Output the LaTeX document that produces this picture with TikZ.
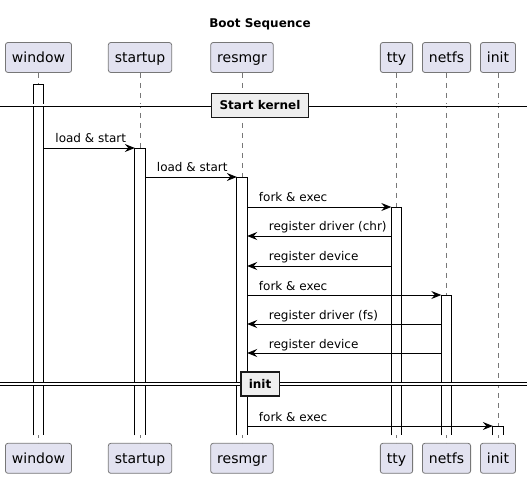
\documentclass[tikz,border=0pt]{standalone}
\usepackage{fontspec}
\setmainfont{DejaVu Sans}
\usetikzlibrary{arrows.meta, positioning}
\definecolor{partfill}{HTML}{E2E2F0}
\definecolor{partline}{HTML}{777777}
\definecolor{sepfill}{HTML}{EEEEEE}
\tikzset{
participant/.style={draw=partline, line width=0.8pt, fill=partfill, rounded corners=2.5pt, minimum height=30pt, inner xsep=6.5pt, text height=12pt, text depth=1pt, font=\fontsize{14}{16}\selectfont}, % heads of the lifelines
lifeline/.style={draw=partline, line width=0.6pt, dash pattern=on 5pt off 5pt},
bar/.style={fill=white, minimum width=10pt, inner sep=0pt, anchor=north}, % activation, outline drawn open at the bottom
barline/.style={line width=0.8pt},
msg/.style={-{Stealth[length=10pt, width=8pt, inset=3.5pt]}, line width=0.8pt},
lbl/.style={at start, anchor=base west, xshift=8pt, yshift=5pt, font=\fontsize{12}{14}\selectfont}, % label of a call
lbl back/.style={at end, anchor=base west, xshift=18pt, yshift=5pt, font=\fontsize{12}{14}\selectfont}, % label of a reply
sepline/.style={double, double distance=2pt, line width=0.9pt},
sepbox/.style={draw=black!90, line width=1.5pt, fill=sepfill, minimum height=24pt, inner xsep=8pt, text height=9pt, text depth=0pt, font=\bfseries\fontsize{12}{14}\selectfont},
}

\begin{document}
\begin{tikzpicture}[x=1pt, y=-1pt]
    \useasboundingbox (0,0) rectangle (527,478);
    \node[font=\bfseries\fontsize{12}{14}\selectfont, anchor=base] (title) at (260,28) {Boot Sequence};

    % participants
    \node[participant] (window) at (38.5,57.5) {window};
    \node[participant] (startup) at (140,57.5) {startup};
    \node[participant] (resmgr) at (242,57.5) {resmgr};
    \node[participant] (tty) at (396.5,57.5) {tty};
    \node[participant] (netfs) at (446.5,57.5) {netfs};
    \node[participant] (init) at (498,57.5) {init};
    \node[participant, below=370pt of window] (window end) {window};
    \node[participant, below=370pt of startup] (startup end) {startup};
    \node[participant, below=370pt of resmgr] (resmgr end) {resmgr};
    \node[participant, below=370pt of tty] (tty end) {tty};
    \node[participant, below=370pt of netfs] (netfs end) {netfs};
    \node[participant, below=370pt of init] (init end) {init};
    \draw[lifeline]
    (window) -- (window end)
    (startup) -- (startup end)
    (resmgr) -- (resmgr end)
    (tty) -- (tty end)
    (netfs) -- (netfs end)
    (init) -- (init end);

    % activations
    \node[bar, minimum height=351pt] (window bar) at (38.5,84) {};
    \node[bar, minimum height=287pt] (startup bar) at (140,148) {};
    \node[bar, minimum height=258pt] (resmgr bar) at (242,177) {};
    \node[bar, minimum height=228pt] (tty bar) at (396.5,207) {};
    \node[bar, minimum height=140pt] (netfs bar) at (446.5,295) {};
    \node[bar, minimum height=9pt] (init bar) at (498,426) {};
    \foreach \b in {window, startup, resmgr, tty, netfs, init}
        \draw[barline] (\b\space bar.south west) -- (\b\space bar.north west) -- (\b\space bar.north east) -- (\b\space bar.south east);

    % separators
    \coordinate (left) at (0,0);
    \coordinate (right) at (527,0);
    \node[sepbox] (kernel sep) at (260,105.5) {Start kernel};
    \node[sepbox] (init sep) at (260,384) {init};
    \draw[sepline] (left |- kernel sep) -- (kernel sep.west);
    \draw[sepline] (kernel sep.east) -- (right |- kernel sep);
    \draw[sepline] (left |- init sep) -- (init sep.west);
    \draw[sepline] (init sep.east) -- (right |- init sep);

    % messages
    \coordinate (reg chr) at (0,236);
    \coordinate (reg dev tty) at (0,266);
    \coordinate (reg fs) at (0,324);
    \coordinate (reg dev netfs) at (0,353);
    \draw[msg] (window bar.east |- startup bar.north west) -- (startup bar.north west) node[lbl] {load \& start};
    \draw[msg] (startup bar.east |- resmgr bar.north west) -- (resmgr bar.north west) node[lbl] {load \& start};
    \draw[msg] (resmgr bar.east |- tty bar.north west) -- (tty bar.north west) node[lbl] {fork \& exec};
    \draw[msg] (tty bar.west |- reg chr) -- (resmgr bar.east |- reg chr) node[lbl back] {register driver (chr)};
    \draw[msg] (tty bar.west |- reg dev tty) -- (resmgr bar.east |- reg dev tty) node[lbl back] {register device};
    \draw[msg] (resmgr bar.east |- netfs bar.north west) -- (netfs bar.north west) node[lbl] {fork \& exec};
    \draw[msg] (netfs bar.west |- reg fs) -- (resmgr bar.east |- reg fs) node[lbl back] {register driver (fs)};
    \draw[msg] (netfs bar.west |- reg dev netfs) -- (resmgr bar.east |- reg dev netfs) node[lbl back] {register device};
    \draw[msg] (resmgr bar.east |- init bar.north west) -- (init bar.north west) node[lbl] {fork \& exec};
\end{tikzpicture}
\end{document}
